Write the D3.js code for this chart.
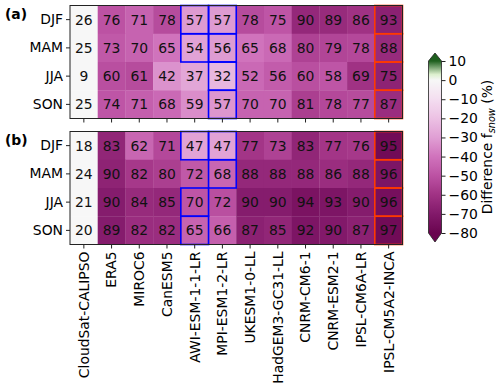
<!DOCTYPE html>
<html><head><meta charset="utf-8">
<script src="https://cdn.jsdelivr.net/npm/d3@7"></script>
<style>
html,body{margin:0;padding:0;background:#fff;}
text{font-family:"DejaVu Sans",sans-serif;}
</style></head>
<body><svg id="c" width="500" height="391"></svg>
<script>
const models = ["CloudSat-CALIPSO","ERA5","MIROC6","CanESM5","AWI-ESM-1-1-LR","MPI-ESM1-2-LR","UKESM1-0-LL","HadGEM3-GC31-LL","CNRM-CM6-1","CNRM-ESM2-1","IPSL-CM6A-LR","IPSL-CM5A2-INCA"];
const seasons = ["DJF","MAM","JJA","SON"];
const valuesA = [
  [26,76,71,78,57,57,78,75,90,89,86,93],
  [25,73,70,65,54,56,65,68,80,79,78,88],
  [9,60,61,42,37,32,52,56,60,58,69,75],
  [25,74,71,68,59,57,70,70,81,78,77,87]
];
const valuesB = [
  [18,83,62,71,47,47,77,73,83,77,76,95],
  [24,90,82,80,72,68,88,88,88,86,88,96],
  [21,90,84,85,70,72,90,90,94,93,90,96],
  [20,89,82,82,65,66,87,85,92,90,87,97]
];
// highlighted cells [season, model]
const blueA = [["DJF","AWI-ESM-1-1-LR"],["MAM","AWI-ESM-1-1-LR"],["DJF","MPI-ESM1-2-LR"],["MAM","MPI-ESM1-2-LR"],["JJA","MPI-ESM1-2-LR"],["SON","MPI-ESM1-2-LR"]];
const blueB = [["DJF","AWI-ESM-1-1-LR"],["JJA","AWI-ESM-1-1-LR"],["SON","AWI-ESM-1-1-LR"],["DJF","MPI-ESM1-2-LR"],["MAM","MPI-ESM1-2-LR"]];
const redModel = "IPSL-CM5A2-INCA";
const cbTicks = [10,0,-10,-20,-30,-40,-50,-60,-70,-80];

const cmapDomain = [-80,-70,-60,-50,-40,-30,-20,-10,0,3,10];
const cmapRange = ["#69054f","#82196a","#a03284","#bc52a3","#d073bc","#e09fd4","#ecc1e4","#f4def0","#f7f7f7","#dcefcd","#1e5f1e"];
const color = d3.scaleLinear().domain(cmapDomain).range(cmapRange).clamp(true);

const svg = d3.select("#c");
const fs = 13.9;
const x = d3.scaleBand().domain(models).range([70, 402.5]);
const panels = [
  {vals: valuesA, blue: blueA, y0: 5.5, label: "(a)"},
  {vals: valuesB, blue: blueB, y0: 131.5, label: "(b)"}
];
const ph = 113;

panels.forEach((p, pi) => {
  const y = d3.scaleBand().domain(seasons).range([p.y0, p.y0 + ph]);
  const g = svg.append("g");
  seasons.forEach((s, si) => {
    const obs = p.vals[si][0];
    models.forEach((m, mi) => {
      const v = p.vals[si][mi];
      g.append("rect").attr("x", x(m)).attr("y", y(s))
        .attr("width", x.bandwidth() + 0.3).attr("height", y.bandwidth() + 0.3)
        .attr("fill", color(obs - v));
      g.append("text").attr("x", x(m) + x.bandwidth()/2).attr("y", y(s) + y.bandwidth()/2)
        .attr("dy", "0.36em").attr("text-anchor", "middle").attr("font-size", fs)
        .attr("fill", "#111").text(v);
    });
  });
  // highlight boxes
  p.blue.forEach(([s, m]) => {
    g.append("rect").attr("x", x(m)).attr("y", y(s)).attr("width", x.bandwidth()).attr("height", y.bandwidth())
      .attr("fill", "none").attr("stroke", "#0000ff").attr("stroke-width", 1.6);
  });
  seasons.forEach(s => {
    g.append("rect").attr("x", x(redModel)).attr("y", y(s)).attr("width", x.bandwidth()).attr("height", y.bandwidth())
      .attr("fill", "none").attr("stroke", "#ff3a00").attr("stroke-width", 1.6);
  });
  // frame
  g.append("rect").attr("x", 70).attr("y", p.y0).attr("width", 332.5).attr("height", ph)
    .attr("fill", "none").attr("stroke", "#222").attr("stroke-width", 1);
  // y axis
  const ya = svg.append("g").attr("transform", "translate(70,0)")
    .call(d3.axisLeft(y).tickSize(4).tickPadding(3));
  ya.select(".domain").remove();
  ya.selectAll("text").attr("font-size", fs).attr("fill", "#000").style("font-family", "DejaVu Sans");
  ya.selectAll("line").attr("stroke", "#222");
  // x axis
  const xa = svg.append("g").attr("transform", `translate(0,${p.y0 + ph})`)
    .call(d3.axisBottom(x).tickSize(4).tickPadding(3));
  xa.select(".domain").remove();
  xa.selectAll("line").attr("stroke", "#222");
  if (pi === 0) {
    xa.selectAll("text").remove();
  } else {
    xa.selectAll("text").attr("font-size", fs).attr("fill", "#000").style("font-family", "DejaVu Sans")
      .attr("transform", "rotate(-90)").attr("text-anchor", "end")
      .attr("x", -7).attr("y", 0).attr("dy", "0.35em");
  }
  svg.append("text").attr("x", 5).attr("y", p.y0 + 13).attr("font-size", fs)
    .attr("font-weight", "bold").text(p.label);
});

// colorbar
const cbX = 428.5, cbW = 13;
const cy = d3.scaleLinear().domain([-80, 10]).range([233, 61]);
const defs = svg.append("defs");
const grad = defs.append("linearGradient").attr("id", "cbg")
  .attr("x1", 0).attr("y1", 1).attr("x2", 0).attr("y2", 0);
d3.range(0, 91, 1).forEach(i => {
  const v = -80 + i;
  grad.append("stop").attr("offset", (i / 90)).attr("stop-color", color(v));
});
svg.append("rect").attr("x", cbX).attr("y", cy(10)).attr("width", cbW).attr("height", cy(-80) - cy(10))
  .attr("fill", "url(#cbg)");
svg.append("path").attr("d", `M${cbX},${cy(10)}L${cbX + cbW/2},${cy(10) - 8}L${cbX + cbW},${cy(10)}Z`)
  .attr("fill", color(10));
svg.append("path").attr("d", `M${cbX},${cy(-80)}L${cbX + cbW/2},${cy(-80) + 9}L${cbX + cbW},${cy(-80)}Z`)
  .attr("fill", color(-80));
svg.append("path").attr("d",
  `M${cbX},${cy(10)}L${cbX + cbW/2},${cy(10) - 8}L${cbX + cbW},${cy(10)}L${cbX + cbW},${cy(-80)}L${cbX + cbW/2},${cy(-80) + 9}L${cbX},${cy(-80)}Z`)
  .attr("fill", "none").attr("stroke", "#222").attr("stroke-width", 0.8);
const ca = svg.append("g").attr("transform", `translate(${cbX + cbW},0)`)
  .call(d3.axisRight(cy).tickValues(cbTicks).tickSize(4).tickPadding(3).tickFormat(d => d < 0 ? "\u2212" + Math.abs(d) : d));
ca.select(".domain").remove();
ca.selectAll("text").attr("font-size", fs).attr("fill", "#000").style("font-family", "DejaVu Sans");
ca.selectAll("line").attr("stroke", "#222");

const lab = svg.append("text").attr("transform", `translate(492,${(cy(10) + cy(-80)) / 2}) rotate(-90)`)
  .attr("text-anchor", "middle").attr("font-size", fs);
lab.append("tspan").text("Difference f");
lab.append("tspan").attr("font-style", "italic").attr("font-size", fs * 0.7).attr("dy", 3).text("snow");
lab.append("tspan").attr("dy", -3).text(" (%)");
</script></body></html>
